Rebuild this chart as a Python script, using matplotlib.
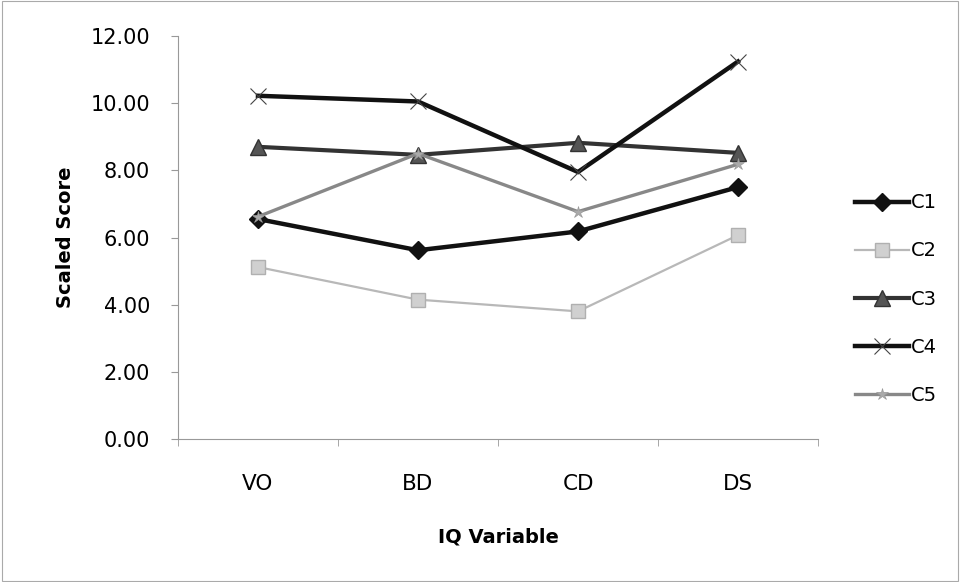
import matplotlib
matplotlib.use("Agg")
import matplotlib.pyplot as plt
from matplotlib.patches import Rectangle

categories = ["VO", "BD", "CD", "DS"]
c1 = [6.55, 5.62, 6.18, 7.50]
c2 = [5.12, 4.15, 3.80, 6.07]
c3 = [8.70, 8.46, 8.82, 8.52]
c4 = [10.22, 10.05, 7.95, 11.24]
c5 = [6.62, 8.50, 6.77, 8.18]
series_names = ["C1", "C2", "C3", "C4", "C5"]
y_ticks = [0, 2, 4, 6, 8, 10, 12]

plt.rcParams['font.family'] = ['DejaVu Sans']

fig = plt.figure(figsize=(9.6, 5.82), dpi=100)
ax = fig.add_axes([178/960, 1-439/582, (818-178)/960, (439-36)/582])

x = list(range(len(categories)))
styles = [
    dict(color="#111111", lw=3.2, marker="D", ms=9, mfc="#111111", mec="#111111"),
    dict(color="#b8b8b8", lw=1.6, marker="s", ms=10, mfc="#d0d0d0", mec="#b0b0b0"),
    dict(color="#333333", lw=3.0, marker="^", ms=11, mfc="#555555", mec="#333333"),
    dict(color="#111111", lw=3.2, marker="x", ms=12, mew=0.8, mec="#444444"),
    dict(color="#888888", lw=2.4, marker="*", ms=9, mfc="#aaaaaa", mec="#999999", mew=0.5),
]
for vals, name, st in zip([c1, c2, c3, c4, c5], series_names, styles):
    ax.plot(x, vals, label=name, solid_joinstyle="miter", **st)

ax.set_xlim(-0.5, len(categories) - 0.5)
ax.set_ylim(0, 12)
ax.set_yticks(y_ticks)
ax.set_yticklabels([f"{v:.2f}" for v in y_ticks], fontsize=15)
ax.set_xticks(x)
ax.set_xticklabels(categories, fontsize=15.5)
ax.set_xticks([i - 0.5 for i in range(len(categories) + 1)], minor=True)
ax.tick_params(axis="x", which="major", length=0, pad=25)
ax.tick_params(axis="x", which="minor", length=5, color="#999999")
ax.tick_params(axis="y", length=5, color="#999999", pad=15)

for s in ["top", "right"]:
    ax.spines[s].set_visible(False)
for s in ["left", "bottom"]:
    ax.spines[s].set_color("#999999")
    ax.spines[s].set_linewidth(0.8)

ax.set_ylabel("Scaled Score", fontsize=14, fontweight="bold", labelpad=11)
ax.set_xlabel("IQ Variable", fontsize=14, fontweight="bold", labelpad=24)

leg = ax.legend(loc="center left", bbox_to_anchor=(1.03, 0.347), frameon=False,
                fontsize=14, handlelength=2.8, handletextpad=0.1, labelspacing=1.5)

fig.patches.append(Rectangle((0.002, 0.002), 0.996, 0.996, transform=fig.transFigure,
                             fill=False, edgecolor="#aaaaaa", lw=0.8))

fig.savefig("out.png", dpi=100)
